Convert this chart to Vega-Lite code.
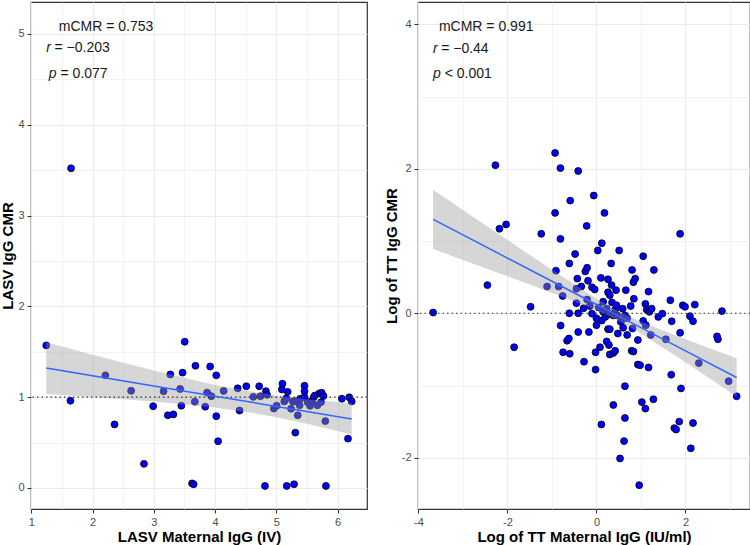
{
  "$schema": "https://vega.github.io/schema/vega-lite/v6.json",
  "padding": {"left": 0, "top": 1, "right": 2, "bottom": 0},
  "spacing": 14,
  "config": {
    "font": "Liberation Sans",
    "view": {"stroke": "#333333", "strokeWidth": 1.2},
    "axis": {
      "domain": false,
      "gridColor": "#EBEBEB",
      "tickColor": "#333333",
      "tickSize": 4,
      "labelColor": "#4D4D4D",
      "labelFontSize": 11,
      "labelPadding": 3,
      "labelFlush": false,
      "labelOverlap": false,
      "titleFontSize": 15,
      "titleFontWeight": "bold",
      "titleColor": "#000000",
      "titlePadding": 2,
      "labelFont": "Liberation Sans",
      "titleFont": "Liberation Sans"
    }
  },
  "datasets": {
    "left": [
      {"x":1.245,"y":1.57},{"x":1.64,"y":0.96},{"x":1.65,"y":3.52},{"x":2.21,"y":1.24},{"x":2.36,"y":0.70},
      {"x":2.63,"y":1.07},{"x":2.84,"y":0.265},{"x":2.99,"y":0.90},{"x":3.16,"y":1.065},{"x":3.23,"y":0.80},
      {"x":3.27,"y":1.25},{"x":3.32,"y":0.81},{"x":3.43,"y":1.09},{"x":3.45,"y":0.905},{"x":3.47,"y":1.27},
      {"x":3.505,"y":1.61},{"x":3.625,"y":0.05},{"x":3.65,"y":0.04},{"x":3.67,"y":0.95},{"x":3.68,"y":1.345},
      {"x":3.84,"y":0.895},{"x":3.87,"y":1.05},{"x":3.92,"y":1.337},{"x":3.94,"y":1.01},{"x":4.02,"y":1.24},
      {"x":4.02,"y":0.79},{"x":4.05,"y":0.514},{"x":4.14,"y":1.068},{"x":4.37,"y":1.097},{"x":4.40,"y":0.852},
      {"x":4.51,"y":1.12},{"x":4.625,"y":1.003},{"x":4.72,"y":1.12},{"x":4.74,"y":1.01},{"x":4.815,"y":0.022},
      {"x":4.83,"y":1.066},{"x":4.85,"y":1.025},{"x":4.96,"y":0.875},{"x":5.005,"y":0.905},{"x":5.09,"y":1.085},
      {"x":5.10,"y":1.147},{"x":5.13,"y":0.953},{"x":5.16,"y":0.985},{"x":5.17,"y":0.022},{"x":5.185,"y":1.058},
      {"x":5.24,"y":0.873},{"x":5.27,"y":0.952},{"x":5.29,"y":0.04},{"x":5.31,"y":0.609},{"x":5.32,"y":0.955},
      {"x":5.35,"y":0.80},{"x":5.38,"y":0.91},{"x":5.39,"y":0.983},{"x":5.46,"y":1.125},{"x":5.46,"y":1.066},
      {"x":5.46,"y":1.0},{"x":5.51,"y":0.945},{"x":5.55,"y":0.905},{"x":5.58,"y":0.958},{"x":5.61,"y":1.0},
      {"x":5.63,"y":1.018},{"x":5.67,"y":0.91},{"x":5.70,"y":1.04},{"x":5.74,"y":1.048},{"x":5.73,"y":0.945},
      {"x":5.77,"y":1.013},{"x":5.80,"y":0.736},{"x":5.81,"y":0.022},{"x":6.07,"y":0.983},{"x":6.19,"y":0.998},
      {"x":6.23,"y":0.953},{"x":6.17,"y":0.543}
    ],
    "leftBand": [
      {"x":1.245,"fit":1.32,"lo":1.035,"hi":1.605},
      {"x":2,"fit":1.235,"lo":1.002,"hi":1.468},
      {"x":3,"fit":1.123,"lo":0.953,"hi":1.293},
      {"x":4,"fit":1.010,"lo":0.885,"hi":1.135},
      {"x":4.6,"fit":0.943,"lo":0.827,"hi":1.059},
      {"x":5,"fit":0.898,"lo":0.778,"hi":1.018},
      {"x":5.5,"fit":0.842,"lo":0.706,"hi":0.978},
      {"x":6.23,"fit":0.760,"lo":0.588,"hi":0.932}
    ],
    "leftText": [
      {"x":1.45,"y":5.08,"t":"mCMR = 0.753","it":0},
      {"x":1.245,"y":4.84,"t":"r","it":1},
      {"x":1.38,"y":4.84,"t":"= −0.203","it":0},
      {"x":1.287,"y":4.56,"t":"p","it":1},
      {"x":1.478,"y":4.56,"t":"= 0.077","it":0}
    ],
    "right": [
      {"x":-3.67,"y":0.01},{"x":-2.45,"y":0.39},{"x":-2.27,"y":2.05},{"x":-2.18,"y":1.17},{"x":-2.03,"y":1.23},
      {"x":-1.85,"y":-0.47},{"x":-1.48,"y":0.09},{"x":-1.24,"y":1.10},{"x":-1.11,"y":0.37},{"x":-0.93,"y":2.22},
      {"x":-0.93,"y":1.39},{"x":-0.91,"y":0.59},{"x":-0.85,"y":0.37},{"x":-0.81,"y":2.01},{"x":-0.81,"y":1.03},
      {"x":-0.805,"y":-0.17},{"x":-0.76,"y":0.24},{"x":-0.75,"y":-0.54},{"x":-0.66,"y":-0.38},{"x":-0.62,"y":-0.35},
      {"x":-0.61,"y":0.69},{"x":-0.61,"y":0.0},{"x":-0.60,"y":-0.56},{"x":-0.59,"y":1.56},{"x":-0.48,"y":0.82},
      {"x":-0.45,"y":0.34},{"x":-0.45,"y":0.14},{"x":-0.43,"y":0.48},{"x":-0.41,"y":1.97},{"x":-0.41,"y":0.0},
      {"x":-0.41,"y":-0.26},{"x":-0.34,"y":0.37},{"x":-0.29,"y":0.07},{"x":-0.28,"y":-0.67},{"x":-0.25,"y":0.58},
      {"x":-0.22,"y":1.21},{"x":-0.21,"y":0.63},{"x":-0.21,"y":0.19},{"x":-0.19,"y":0.45},{"x":-0.17,"y":-0.26},
      {"x":-0.15,"y":0.10},{"x":-0.10,"y":0.36},{"x":-0.10,"y":-0.005},{"x":-0.06,"y":1.63},{"x":-0.04,"y":0.33},
      {"x":-0.02,"y":-0.54},{"x":-0.02,"y":-0.78},{"x":0.0,"y":-0.07},{"x":0.0,"y":-0.165},{"x":0.03,"y":0.87},
      {"x":0.05,"y":0.08},{"x":0.08,"y":-0.47},{"x":0.10,"y":0.49},{"x":0.11,"y":-1.54},{"x":0.12,"y":0.97},
      {"x":0.12,"y":-0.10},{"x":0.15,"y":0.16},{"x":0.15,"y":0.02},{"x":0.18,"y":1.39},{"x":0.20,"y":-0.05},
      {"x":0.23,"y":0.064},{"x":0.23,"y":-0.39},{"x":0.26,"y":0.47},{"x":0.26,"y":0.29},{"x":0.26,"y":-0.22},
      {"x":0.28,"y":-0.44},{"x":0.30,"y":0.25},{"x":0.30,"y":-0.014},{"x":0.30,"y":-0.22},{"x":0.30,"y":-0.57},
      {"x":0.33,"y":0.69},{"x":0.34,"y":0.39},{"x":0.35,"y":0.15},{"x":0.38,"y":-0.03},{"x":0.38,"y":-0.55},
      {"x":0.38,"y":-1.27},{"x":0.42,"y":-0.52},{"x":0.42,"y":0.05},{"x":0.44,"y":0.32},{"x":0.45,"y":0.11},
      {"x":0.47,"y":-0.03},{"x":0.48,"y":-0.28},{"x":0.51,"y":0.87},{"x":0.53,"y":-2.01},{"x":0.55,"y":-0.12},
      {"x":0.59,"y":0.064},{"x":0.60,"y":-0.20},{"x":0.62,"y":-1.77},{"x":0.64,"y":-0.03},{"x":0.64,"y":-1.01},
      {"x":0.64,"y":-1.45},{"x":0.66,"y":0.32},{"x":0.69,"y":-0.07},{"x":0.69,"y":-0.30},{"x":0.77,"y":0.10},
      {"x":0.79,"y":-0.52},{"x":0.80,"y":0.60},{"x":0.81,"y":-0.21},{"x":0.83,"y":0.43},{"x":0.83,"y":-0.53},
      {"x":0.84,"y":0.20},{"x":0.87,"y":0.48},{"x":0.93,"y":-0.37},{"x":0.93,"y":-0.71},{"x":0.96,"y":-2.38},
      {"x":0.98,"y":-0.72},{"x":1.02,"y":-1.23},{"x":1.05,"y":0.79},{"x":1.05,"y":-0.105},{"x":1.10,"y":0.13},
      {"x":1.10,"y":-1.32},{"x":1.11,"y":-0.165},{"x":1.13,"y":0.05},{"x":1.17,"y":0.30},{"x":1.17,"y":-0.75},
      {"x":1.19,"y":0.02},{"x":1.22,"y":-0.30},{"x":1.24,"y":0.064},{"x":1.28,"y":-1.19},{"x":1.29,"y":0.60},
      {"x":1.39,"y":-0.05},{"x":1.48,"y":-0.005},{"x":1.56,"y":-0.36},{"x":1.66,"y":0.18},{"x":1.68,"y":-0.85},
      {"x":1.69,"y":-0.11},{"x":1.75,"y":-1.59},{"x":1.79,"y":-1.61},{"x":1.86,"y":-1.50},{"x":1.88,"y":1.10},
      {"x":1.88,"y":-0.27},{"x":1.90,"y":-1.04},{"x":1.94,"y":0.11},{"x":1.99,"y":0.09},{"x":2.10,"y":-0.04},
      {"x":2.12,"y":-1.87},{"x":2.17,"y":-0.11},{"x":2.17,"y":-1.52},{"x":2.21,"y":0.12},{"x":2.30,"y":-0.69},
      {"x":2.71,"y":-0.32},{"x":2.73,"y":-0.36},{"x":2.82,"y":0.03},{"x":2.97,"y":-0.94},{"x":3.15,"y":-1.15}
    ],
    "rightBand": [
      {"x":-3.67,"fit":1.300,"lo":0.890,"hi":1.710},
      {"x":-3,"fit":1.085,"lo":0.739,"hi":1.431},
      {"x":-2,"fit":0.764,"lo":0.513,"hi":1.015},
      {"x":-1,"fit":0.443,"lo":0.284,"hi":0.602},
      {"x":0,"fit":0.122,"lo":0.042,"hi":0.202},
      {"x":0.5,"fit":-0.039,"lo":-0.102,"hi":0.024},
      {"x":1,"fit":-0.199,"lo":-0.279,"hi":-0.119},
      {"x":2,"fit":-0.520,"lo":-0.679,"hi":-0.361},
      {"x":3.15,"fit":-0.889,"lo":-1.154,"hi":-0.624}
    ],
    "rightText": [
      {"x":-3.54,"y":3.97,"t":"mCMR = 0.991","it":0},
      {"x":-3.674,"y":3.66,"t":"r","it":1},
      {"x":-3.49,"y":3.66,"t":"= −0.44","it":0},
      {"x":-3.674,"y":3.31,"t":"p","it":1},
      {"x":-3.41,"y":3.31,"t":"< 0.001","it":0}
    ]
  },
  "hconcat": [
    {
      "width": 336,
      "height": 507,
      "encoding": {
        "x": {"type": "quantitative", "title": "LASV Maternal IgG (IV)",
          "scale": {"domain": [0.996, 6.48], "nice": false, "zero": false},
          "axis": {"values": [1,1.5,2,2.5,3,3.5,4,4.5,5,5.5,6],
            "labelExpr": "datum.value % 1 === 0 ? '' + datum.value : ''",
            "tickOpacity": {"condition": {"test": "datum.value % 1 !== 0", "value": 0}, "value": 1},
            "gridWidth": {"condition": {"test": "datum.value % 1 !== 0", "value": 0.6}, "value": 1}}},
        "y": {"type": "quantitative", "title": "LASV IgG CMR",
          "scale": {"domain": [-0.232, 5.352], "nice": false, "zero": false},
          "axis": {"values": [0,0.5,1,1.5,2,2.5,3,3.5,4,4.5,5],
            "labelExpr": "datum.value % 1 === 0 ? '' + datum.value : ''",
            "tickOpacity": {"condition": {"test": "datum.value % 1 !== 0", "value": 0}, "value": 1},
            "gridWidth": {"condition": {"test": "datum.value % 1 !== 0", "value": 0.6}, "value": 1}}}
      },
      "layer": [
        {
          "data": {"name": "left"},
          "mark": {"type": "circle", "fill": "#0000FF", "stroke": "#000000", "strokeWidth": 0.8, "size": 48, "opacity": 1, "fillOpacity": 1},
          "encoding": {"x": {"field": "x"}, "y": {"field": "y"}}
        },
        {
          "data": {"name": "leftBand"},
          "mark": {"type": "area", "color": "#999999", "opacity": 0.4},
          "encoding": {"x": {"field": "x"}, "y": {"field": "lo"}, "y2": {"field": "hi"}}
        },
        {
          "data": {"values": [{"ref": 1}]},
          "mark": {"type": "rule", "color": "#333333", "strokeDash": [1.5, 3], "strokeWidth": 1.1},
          "encoding": {"y": {"field": "ref"}}
        },
        {
          "data": {"name": "leftBand"},
          "mark": {"type": "line", "color": "#3366FF", "strokeWidth": 1.5},
          "encoding": {"x": {"field": "x"}, "y": {"field": "fit"}}
        },
        {
          "data": {"name": "leftText"},
          "transform": [{"filter": "datum.it === 0"}],
          "mark": {"type": "text", "align": "left", "baseline": "middle", "fontSize": 14, "color": "#1A1A1A"},
          "encoding": {"x": {"field": "x"}, "y": {"field": "y"}, "text": {"field": "t"}}
        },
        {
          "data": {"name": "leftText"},
          "transform": [{"filter": "datum.it === 1"}],
          "mark": {"type": "text", "align": "left", "baseline": "middle", "fontSize": 14, "fontStyle": "italic", "color": "#1A1A1A"},
          "encoding": {"x": {"field": "x"}, "y": {"field": "y"}, "text": {"field": "t"}}
        }
      ]
    },
    {
      "width": 332,
      "height": 507,
      "encoding": {
        "x": {"type": "quantitative", "title": "Log of TT Maternal IgG (IU/ml)",
          "scale": {"domain": [-4.01, 3.45], "nice": false, "zero": false},
          "axis": {"values": [-4,-3,-2,-1,0,1,2,3],
            "labelExpr": "datum.value % 2 === 0 ? '' + datum.value : ''",
            "tickOpacity": {"condition": {"test": "datum.value % 2 !== 0", "value": 0}, "value": 1},
            "gridWidth": {"condition": {"test": "datum.value % 2 !== 0", "value": 0.6}, "value": 1}}},
        "y": {"type": "quantitative", "title": "Log of TT IgG CMR",
          "scale": {"domain": [-2.71, 4.31], "nice": false, "zero": false},
          "axis": {"values": [-2,-1,0,1,2,3,4],
            "labelExpr": "datum.value % 2 === 0 ? '' + datum.value : ''",
            "tickOpacity": {"condition": {"test": "datum.value % 2 !== 0", "value": 0}, "value": 1},
            "gridWidth": {"condition": {"test": "datum.value % 2 !== 0", "value": 0.6}, "value": 1}}}
      },
      "layer": [
        {
          "data": {"name": "right"},
          "mark": {"type": "circle", "fill": "#0000FF", "stroke": "#000000", "strokeWidth": 0.8, "size": 48, "opacity": 1, "fillOpacity": 1},
          "encoding": {"x": {"field": "x"}, "y": {"field": "y"}}
        },
        {
          "data": {"name": "rightBand"},
          "mark": {"type": "area", "color": "#999999", "opacity": 0.4},
          "encoding": {"x": {"field": "x"}, "y": {"field": "lo"}, "y2": {"field": "hi"}}
        },
        {
          "data": {"values": [{"ref": 0}]},
          "mark": {"type": "rule", "color": "#333333", "strokeDash": [1.5, 3], "strokeWidth": 1.1},
          "encoding": {"y": {"field": "ref"}}
        },
        {
          "data": {"name": "rightBand"},
          "mark": {"type": "line", "color": "#3366FF", "strokeWidth": 1.5},
          "encoding": {"x": {"field": "x"}, "y": {"field": "fit"}}
        },
        {
          "data": {"name": "rightText"},
          "transform": [{"filter": "datum.it === 0"}],
          "mark": {"type": "text", "align": "left", "baseline": "middle", "fontSize": 14, "color": "#1A1A1A"},
          "encoding": {"x": {"field": "x"}, "y": {"field": "y"}, "text": {"field": "t"}}
        },
        {
          "data": {"name": "rightText"},
          "transform": [{"filter": "datum.it === 1"}],
          "mark": {"type": "text", "align": "left", "baseline": "middle", "fontSize": 14, "fontStyle": "italic", "color": "#1A1A1A"},
          "encoding": {"x": {"field": "x"}, "y": {"field": "y"}, "text": {"field": "t"}}
        }
      ]
    }
  ]
}
